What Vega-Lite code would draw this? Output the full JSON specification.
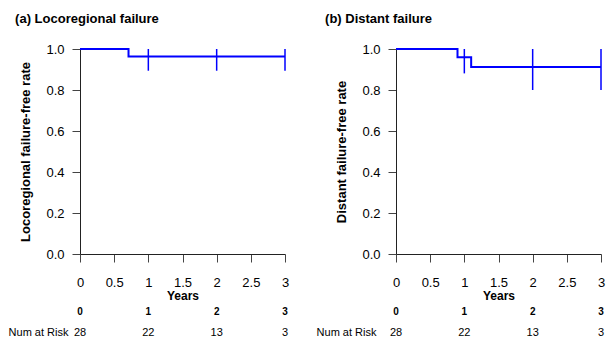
{
  "$schema": "https://vega.github.io/schema/vega-lite/v6.json",
  "background": "white",
  "padding": {"left": 8, "top": 13, "right": 5, "bottom": 0},
  "spacing": 27,
  "config": {
    "view": {"stroke": null},
    "font": "Liberation Sans",
    "axis": {
      "grid": false,
      "domainColor": "#222",
      "tickColor": "#444",
      "labelColor": "#000",
      "titleColor": "#000",
      "labelFont": "Liberation Sans",
      "titleFont": "Liberation Sans"
    },
    "title": {"font": "Liberation Sans", "color": "#000"}
  },
  "hconcat": [
    {
      "title": {"text": "(a) Locoregional failure", "anchor": "start", "fontSize": 13, "fontWeight": "bold", "dx": 7, "offset": 17},
      "spacing": 0,
      "vconcat": [
        {
          "width": 205,
          "height": 205,
          "encoding": {
            "x": {"field": "years", "type": "quantitative", "scale": {"domain": [0, 3], "nice": false},
              "axis": {"title": "Years", "values": [0, 0.5, 1, 1.5, 2, 2.5, 3], "labelExpr": "format(datum.value, '~g')", "tickSize": 8, "labelPadding": 14, "labelFontSize": 13, "titleFontSize": 12, "titleFontWeight": "bold", "titlePadding": 1, "labelFlush": false, "labelOverlap": false}},
            "y": {"field": "rate", "type": "quantitative", "scale": {"domain": [0, 1], "nice": false},
              "axis": {"title": "Locoregional failure-free rate", "values": [0, 0.2, 0.4, 0.6, 0.8, 1], "format": ".1f", "tickSize": 8, "labelPadding": 8, "labelFontSize": 13, "titleFontSize": 13, "titleFontWeight": "bold", "titlePadding": 13}}
          },
          "layer": [
            {
              "data": {"values": [
                {"years": 0, "rate": 1.0},
                {"years": 0.71, "rate": 0.964},
                {"years": 3, "rate": 0.964}
              ]},
              "mark": {"type": "line", "interpolate": "step-after", "color": "#0000ff", "strokeWidth": 2}
            },
            {
              "data": {"values": [
                {"years": 1, "rate": 1.0, "lower": 0.894},
                {"years": 2, "rate": 1.0, "lower": 0.894},
                {"years": 3, "rate": 1.0, "lower": 0.894}
              ]},
              "mark": {"type": "rule", "color": "#0000ff", "strokeWidth": 1.5},
              "encoding": {
                "y2": {"field": "lower"}
              }
            }
          ]
        },
        {
          "width": 205,
          "height": 42,
          "encoding": {
            "x": {"field": "years", "type": "quantitative", "scale": {"domain": [0, 3], "nice": false}, "axis": null},
            "y": {"field": "row", "type": "nominal", "scale": {"domain": ["hdr", "Num at Risk"]},
              "axis": {"title": null, "domain": false, "ticks": false, "labelPadding": 12, "labelFontSize": 11, "labelExpr": "datum.value == 'hdr' ? '' : datum.value"}},
            "text": {"field": "label", "type": "nominal"}
          },
          "layer": [
            {
              "data": {"values": [
                {"years": 0, "row": "hdr", "label": "0"},
                {"years": 1, "row": "hdr", "label": "1"},
                {"years": 2, "row": "hdr", "label": "2"},
                {"years": 3, "row": "hdr", "label": "3"}
              ]},
              "mark": {"type": "text", "fontSize": 10, "fontWeight": "bold", "color": "#000"}
            },
            {
              "data": {"values": [
                {"years": 0, "row": "Num at Risk", "label": "28"},
                {"years": 1, "row": "Num at Risk", "label": "22"},
                {"years": 2, "row": "Num at Risk", "label": "13"},
                {"years": 3, "row": "Num at Risk", "label": "3"}
              ]},
              "mark": {"type": "text", "fontSize": 11, "color": "#000"}
            }
          ]
        }
      ]
    },
    {
      "title": {"text": "(b) Distant failure", "anchor": "start", "fontSize": 13, "fontWeight": "bold", "dx": 9, "offset": 17},
      "spacing": 0,
      "vconcat": [
        {
          "width": 205,
          "height": 205,
          "encoding": {
            "x": {"field": "years", "type": "quantitative", "scale": {"domain": [0, 3], "nice": false},
              "axis": {"title": "Years", "values": [0, 0.5, 1, 1.5, 2, 2.5, 3], "labelExpr": "format(datum.value, '~g')", "tickSize": 8, "labelPadding": 14, "labelFontSize": 13, "titleFontSize": 12, "titleFontWeight": "bold", "titlePadding": 1, "labelFlush": false, "labelOverlap": false}},
            "y": {"field": "rate", "type": "quantitative", "scale": {"domain": [0, 1], "nice": false},
              "axis": {"title": "Distant failure-free rate", "values": [0, 0.2, 0.4, 0.6, 0.8, 1], "format": ".1f", "tickSize": 8, "labelPadding": 8, "labelFontSize": 13, "titleFontSize": 13, "titleFontWeight": "bold", "titlePadding": 13}}
          },
          "layer": [
            {
              "data": {"values": [
                {"years": 0, "rate": 1.0},
                {"years": 0.9, "rate": 0.96},
                {"years": 1.1, "rate": 0.912},
                {"years": 3, "rate": 0.912}
              ]},
              "mark": {"type": "line", "interpolate": "step-after", "color": "#0000ff", "strokeWidth": 2}
            },
            {
              "data": {"values": [
                {"years": 1, "rate": 1.0, "lower": 0.881},
                {"years": 2, "rate": 1.0, "lower": 0.80},
                {"years": 3, "rate": 1.0, "lower": 0.80}
              ]},
              "mark": {"type": "rule", "color": "#0000ff", "strokeWidth": 1.5},
              "encoding": {
                "y2": {"field": "lower"}
              }
            }
          ]
        },
        {
          "width": 205,
          "height": 42,
          "encoding": {
            "x": {"field": "years", "type": "quantitative", "scale": {"domain": [0, 3], "nice": false}, "axis": null},
            "y": {"field": "row", "type": "nominal", "scale": {"domain": ["hdr", "Num at Risk"]},
              "axis": {"title": null, "domain": false, "ticks": false, "labelPadding": 20, "labelFontSize": 11, "labelExpr": "datum.value == 'hdr' ? '' : datum.value"}},
            "text": {"field": "label", "type": "nominal"}
          },
          "layer": [
            {
              "data": {"values": [
                {"years": 0, "row": "hdr", "label": "0"},
                {"years": 1, "row": "hdr", "label": "1"},
                {"years": 2, "row": "hdr", "label": "2"},
                {"years": 3, "row": "hdr", "label": "3"}
              ]},
              "mark": {"type": "text", "fontSize": 10, "fontWeight": "bold", "color": "#000"}
            },
            {
              "data": {"values": [
                {"years": 0, "row": "Num at Risk", "label": "28"},
                {"years": 1, "row": "Num at Risk", "label": "22"},
                {"years": 2, "row": "Num at Risk", "label": "13"},
                {"years": 3, "row": "Num at Risk", "label": "3"}
              ]},
              "mark": {"type": "text", "fontSize": 11, "color": "#000"}
            }
          ]
        }
      ]
    }
  ]
}
